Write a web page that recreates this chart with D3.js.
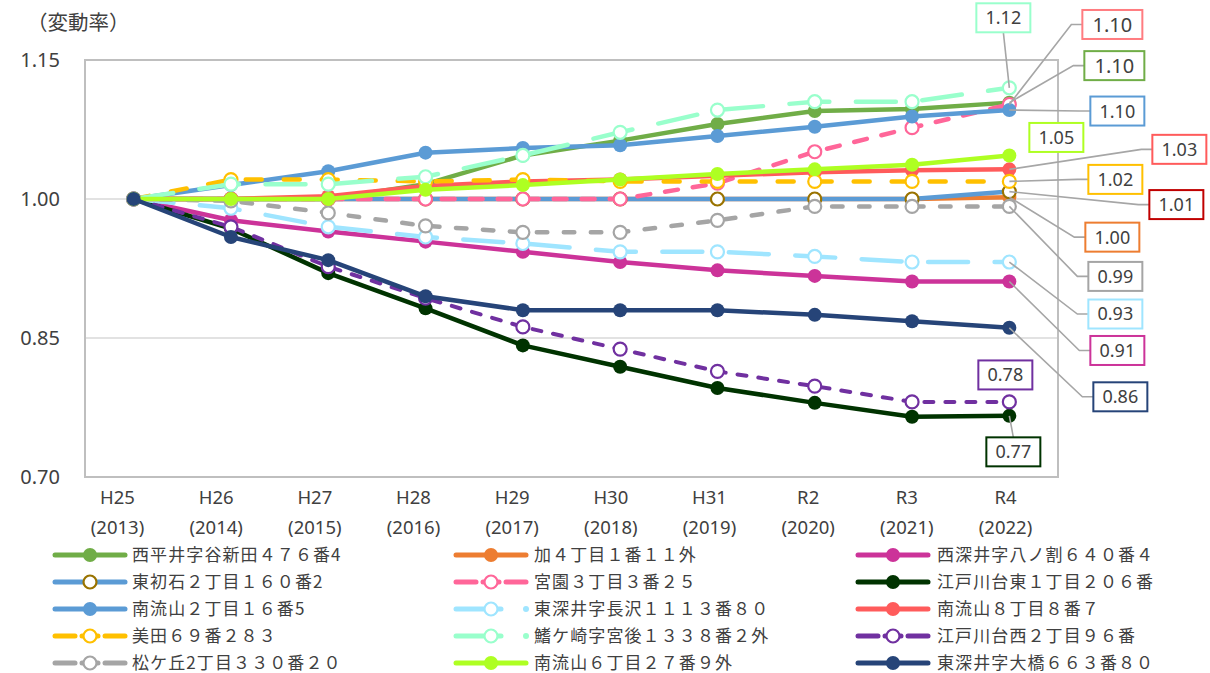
<!DOCTYPE html>
<html lang="ja">
<head>
<meta charset="UTF-8">
<title>変動率</title>
<script src="https://d3js.org/d3.v7.min.js"></script>
<style>
  body { margin: 0; background: #fff; font-family: "Noto Sans CJK JP", "Noto Sans", sans-serif; }
  svg text { fill: #404040; }
</style>
</head>
<body>
<svg id="chart" width="1210" height="673"></svg>
<script>
// 年度
const years = ["H25", "H26", "H27", "H28", "H29", "H30", "H31", "R2", "R3", "R4"];
const yearsAD = ["(2013)", "(2014)", "(2015)", "(2016)", "(2017)", "(2018)", "(2019)", "(2020)", "(2021)", "(2022)"];
const yTicks = [0.70, 0.85, 1.00, 1.15];

// 地点名（凡例順）
const names = [
  "西平井字谷新田４７６番4", "加４丁目１番１１外", "西深井字八ノ割６４０番４",
  "東初石２丁目１６０番2", "宮園３丁目３番２５", "江戸川台東１丁目２０６番",
  "南流山２丁目１６番5", "東深井字長沢１１１３番８０", "南流山８丁目８番７",
  "美田６９番２８３", "鰭ケ崎字宮後１３３８番２外", "江戸川台西２丁目９６番",
  "松ケ丘2丁目３３０番２０", "南流山６丁目２７番９外", "東深井字大橋６６３番８０"
];

// 変動率
const nishihirai  = [1.000, 1.000, 1.000, 1.016, 1.047, 1.063, 1.081, 1.095, 1.097, 1.104];
const ka4         = [1.000, 1.000, 1.000, 1.000, 1.000, 1.000, 1.000, 1.000, 1.000, 1.002];
const nishifukai  = [1.000, 0.977, 0.965, 0.954, 0.943, 0.932, 0.923, 0.917, 0.911, 0.911];
const edoHigashi  = [1.000, 0.968, 0.920, 0.882, 0.842, 0.819, 0.796, 0.780, 0.765, 0.766];
const higashiHatsu= [1.000, 1.000, 1.000, 1.000, 1.000, 1.000, 1.000, 1.000, 1.000, 1.008];
const miyazono    = [1.000, 1.000, 1.000, 1.000, 1.000, 1.000, 1.017, 1.051, 1.077, 1.102];
const minami2     = [1.000, 1.015, 1.030, 1.050, 1.055, 1.058, 1.068, 1.078, 1.089, 1.096];
const nagasawa    = [1.000, 0.990, 0.970, 0.959, 0.952, 0.943, 0.943, 0.938, 0.932, 0.932];
const minami8     = [1.000, 1.000, 1.003, 1.014, 1.019, 1.021, 1.025, 1.029, 1.031, 1.032];
const mita        = [1.000, 1.021, 1.021, 1.019, 1.021, 1.019, 1.019, 1.019, 1.019, 1.019];
const hiregasaki  = [1.000, 1.016, 1.016, 1.024, 1.047, 1.072, 1.096, 1.105, 1.105, 1.120];
const edoNishi    = [1.000, 0.970, 0.927, 0.893, 0.862, 0.838, 0.814, 0.798, 0.781, 0.781];
const matsugaoka  = [1.000, 0.998, 0.985, 0.971, 0.964, 0.964, 0.977, 0.992, 0.992, 0.992];
const minami6     = [1.000, 1.000, 1.000, 1.010, 1.015, 1.021, 1.027, 1.032, 1.037, 1.047];
const ohashi      = [1.000, 0.959, 0.934, 0.895, 0.880, 0.880, 0.880, 0.875, 0.868, 0.861];

const values = [nishihirai, ka4, nishifukai, higashiHatsu, miyazono, edoHigashi,
  minami2, nagasawa, minami8, mita, hiregasaki, edoNishi, matsugaoka, minami6, ohashi];

// 見た目
const colors = ["#70AD47", "#ED7D31", "#CC3399", "#5B9BD5", "#FF6699", "#003300",
  "#5B9BD5", "#9FE5FF", "#FF5B5B", "#FFC000", "#99FFCC", "#7030A0", "#A5A5A5", "#AEFF22", "#264478"];
const markerStroke = [null, null, null, "#997300", null, null,
  null, null, null, null, null, null, null, null, null];
const hollow = [false, false, false, true, true, false, false, true, false, true, true, true, true, false, false];
const lgDashDot = "40,26.5";
const dashes = [null, null, null, null, "13,15", null, null, lgDashDot, null, "16,22",
  lgDashDot, "9,12", "10.5,16.5", null, null];
const labelBorder = ["#70AD47", "#ED7D31", "#CC3399", "#C00000", "#FF7C80", "#003300",
  "#5B9BD5", "#9FE5FF", "#FF5B5B", "#FFC000", "#99FFCC", "#7030A0", "#A5A5A5", "#AEFF22", "#264478"];
// ラベル中心の位置（R4の点からのずれ）
const labelOffset = [[105, -37], [103, 40], [108, 69], [167, 13], [103, -80], [4, 36],
  [108, 1], [106, 52], [170, -20], [106, -2], [-6, -70], [-4, -27], [106, 70], [47, -18], [111, 69]];

const svg = d3.select("#chart");
const mLeft = 85, mRight = 1058, mTop = 60, mBottom = 477;

const x = d3.scaleBand().domain(years).range([mLeft, mRight]).padding(0);
const cx = d => x(d) + x.bandwidth() / 2;
const y = d3.scaleLinear().domain([0.70, 1.15]).range([mBottom, mTop]);
// 軸ラベルの並び（Excelの配置に合わせる）
const xLab = d3.scalePoint().domain(years).range([117, 1005]);

// 枠とグリッド
svg.append("g")
  .selectAll("line")
  .data([0.85, 1.00])
  .join("line")
  .attr("x1", mLeft).attr("x2", mRight)
  .attr("y1", d => y(d)).attr("y2", d => y(d))
  .attr("stroke", "#D9D9D9").attr("stroke-width", 1.5);
svg.append("rect")
  .attr("x", mLeft).attr("y", mTop)
  .attr("width", mRight - mLeft).attr("height", mBottom - mTop)
  .attr("fill", "none").attr("stroke", "#BFBFBF").attr("stroke-width", 2);

// 軸
const yAxis = svg.append("g")
  .attr("transform", `translate(${mLeft},0)`)
  .call(d3.axisLeft(y).tickValues(yTicks).tickFormat(d3.format(".2f")).tickSize(0).tickPadding(25));
yAxis.select(".domain").remove();
yAxis.selectAll("text").style("font-size", "20px").style("font-family", "'Noto Sans', sans-serif");

const xAxis = svg.append("g")
  .attr("transform", `translate(0,${mBottom})`)
  .call(d3.axisBottom(xLab).tickSize(0).tickFormat(""));
xAxis.select(".domain").remove();
xAxis.selectAll(".tick").each(function (d, i) {
  const t = d3.select(this).append("text")
    .attr("text-anchor", "middle")
    .style("font-size", "18.5px")
    .style("font-family", "'Noto Sans', sans-serif");
  t.append("tspan").attr("x", 0).attr("y", 27).text(d);
  t.append("tspan").attr("x", 0).attr("y", 57).text(yearsAD[i]);
});

svg.append("text")
  .attr("x", 27).attr("y", 30)
  .style("font-size", "20.5px")
  .text("（変動率）");

// 系列
const series = names.map((name, i) => ({ name, i, vals: values[i] }));
const line = d3.line().x((d, j) => cx(years[j])).y(d => y(d));

const drawMarker = (g, s, px, py) => {
  g.append("circle")
    .attr("cx", px).attr("cy", py).attr("r", hollow[s.i] ? 6.5 : 7)
    .attr("fill", hollow[s.i] ? "#fff" : colors[s.i])
    .attr("stroke", markerStroke[s.i] || colors[s.i])
    .attr("stroke-width", hollow[s.i] ? 2.2 : 0);
};

series.forEach(s => {
  const g = svg.append("g");
  g.append("path")
    .attr("d", line(s.vals))
    .attr("fill", "none")
    .attr("stroke", colors[s.i])
    .attr("stroke-width", s.i === 11 ? 4 : 4.5)
    .attr("stroke-linecap", dashes[s.i] ? "round" : "butt")
    .attr("stroke-linejoin", "round")
    .attr("stroke-dasharray", dashes[s.i]);
  s.vals.forEach((v, j) => drawMarker(g, s, cx(years[j]), y(v)));
});

// データラベル
const fmt = d3.format(".2f");
const lg = svg.append("g");
series.forEach(s => {
  const px = cx(years[years.length - 1]);
  const py = y(s.vals[s.vals.length - 1]);
  const [dx, dy] = labelOffset[s.i];
  const big = s.i === 0 || s.i === 4;
  const w = big ? 60 : 54, h = 29;
  const lx = px + dx, ly = py + dy;
  const bx = lx - w / 2, by = ly - h / 2;
  let pts = null;
  if (bx > px + 20) {
    pts = [[px, py], [bx - 11, ly], [bx, ly]];
  } else {
    const edge = ly < py ? by + h : by;
    if (Math.abs(edge - py) > 15) pts = [[px, py], [lx, edge]];
  }
  if (pts) {
    lg.append("polyline")
      .attr("points", pts.map(p => p.join(",")).join(" "))
      .attr("fill", "none").attr("stroke", "#A6A6A6").attr("stroke-width", 1.6);
  }
  lg.append("rect")
    .attr("x", bx).attr("y", by).attr("width", w).attr("height", h)
    .attr("fill", "#fff").attr("stroke", labelBorder[s.i]).attr("stroke-width", 2);
  lg.append("text")
    .attr("x", lx).attr("y", ly).attr("dy", "0.36em")
    .attr("text-anchor", "middle")
    .style("font-size", big ? "20px" : "18px")
    .style("font-family", "'Noto Sans', sans-serif")
    .text(fmt(s.vals[s.vals.length - 1]));
});

// 凡例
const legX = [55, 456, 858];
const legY = d3.range(5).map(r => 555 + r * 27);
const leg = svg.append("g");
series.forEach(s => {
  const col = s.i % 3, row = Math.floor(s.i / 3);
  const x0 = legX[col], y0 = legY[row];
  const g = leg.append("g");
  const dash = dashes[s.i];
  if (!dash) {
    g.append("line").attr("x1", x0).attr("x2", x0 + 70).attr("y1", y0).attr("y2", y0)
      .attr("stroke", colors[s.i]).attr("stroke-width", 5).attr("stroke-linecap", "round");
  } else if (dash === lgDashDot) {
    g.append("line").attr("x1", x0).attr("x2", x0 + 45).attr("y1", y0).attr("y2", y0)
      .attr("stroke", colors[s.i]).attr("stroke-width", 5).attr("stroke-linecap", "round");
    g.append("circle").attr("cx", x0 + 70).attr("cy", y0).attr("r", 3).attr("fill", colors[s.i]);
  } else {
    [[x0, x0 + 20], [x0 + 27, x0 + 43], [x0 + 50, x0 + 70]].forEach(([a, b]) => {
      g.append("line").attr("x1", a).attr("x2", b).attr("y1", y0).attr("y2", y0)
        .attr("stroke", colors[s.i]).attr("stroke-width", 5).attr("stroke-linecap", "round");
    });
  }
  drawMarker(g, s, x0 + 35, y0);
  g.append("text")
    .attr("x", x0 + 77 + col).attr("y", y0).attr("dy", "0.36em")
    .style("font-size", "17px")
    .style("letter-spacing", "1.1px")
    .text(s.name);
});
</script>
</body>
</html>
